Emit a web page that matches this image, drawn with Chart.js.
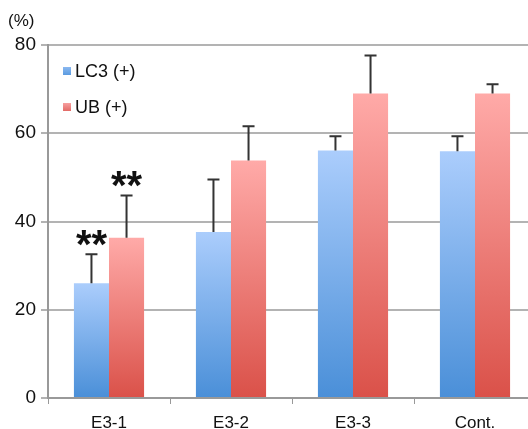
<!DOCTYPE html>
<html>
<head>
<meta charset="utf-8">
<script src="https://cdn.jsdelivr.net/npm/chart.js@4/dist/chart.umd.min.js"></script>
<style>
  html,body{margin:0;padding:0;background:#fff;overflow:hidden}
  #wrap{position:relative;width:528px;height:429px;overflow:hidden}
  #box{position:absolute;left:0;top:0;width:540px;height:429px}
</style>
</head>
<body>
<div id="wrap"><div id="box"><canvas id="c"></canvas></div></div>
<script>
const categories = ["E3-1", "E3-2", "E3-3", "Cont."];
const lc3Values = [26.0, 37.6, 56.1, 55.9];
const lc3Errors = [6.6, 11.9, 3.2, 3.4];
const ubValues = [36.3, 53.8, 69.0, 69.0];
const ubErrors = [9.6, 7.8, 8.6, 2.1];
const starMarks = [["**", "", "", ""], ["**", "", "", ""]];
const yTicks = [0, 20, 40, 60, 80];

const FONT = "'Liberation Sans', Arial, sans-serif";

// gradient per bar, from the bar's top down to the axis
function grad(ctx, top, bottom){
  const ys = ctx.chart.scales.y;
  if(!ys || ctx.parsed == null) return bottom;
  const t = ys.getPixelForValue(ctx.parsed.y), b = ys.getPixelForValue(0);
  if(!isFinite(t) || !isFinite(b) || b <= t) return bottom;
  const g = ctx.chart.ctx.createLinearGradient(0, t, 0, b);
  g.addColorStop(0, top); g.addColorStop(1, bottom);
  return g;
}

const errorBars = {
  id: "errorBars",
  afterDatasetsDraw(chart){
    const c = chart.ctx, y = chart.scales.y;
    const errs = [lc3Errors, ubErrors];
    c.save();
    c.strokeStyle = "#333"; c.lineWidth = 2;
    chart.data.datasets.forEach((ds, di) => {
      chart.getDatasetMeta(di).data.forEach((bar, i) => {
        const y0 = y.getPixelForValue(ds.data[i]);
        const y1 = y.getPixelForValue(ds.data[i] + errs[di][i]);
        c.beginPath();
        c.moveTo(bar.x, y0); c.lineTo(bar.x, y1);
        c.moveTo(bar.x - 6, y1); c.lineTo(bar.x + 6, y1);
        c.stroke();
        const s = starMarks[di][i];
        if(s){
          c.fillStyle = "#111"; c.font = "bold 40px " + FONT;
          c.textAlign = "center"; c.textBaseline = "alphabetic";
          c.fillText(s, bar.x, y1 + 4);
        }
      });
    });
    c.restore();
  }
};

const extras = {
  id: "extras",
  afterDraw(chart){
    const c = chart.ctx;
    c.save();
    c.fillStyle = "#111"; c.font = "17px " + FONT;
    c.textAlign = "left"; c.textBaseline = "middle";
    c.fillText("(%)", 8, 21);
    const sw = [["#8ab8f0", "#5b9be0"], ["#f7a0a0", "#e26a66"]];
    chart.data.datasets.forEach((ds, i) => {
      const yy = 71 + i * 36;
      const g = c.createLinearGradient(0, yy - 4, 0, yy + 4);
      g.addColorStop(0, sw[i][0]); g.addColorStop(1, sw[i][1]);
      c.fillStyle = g; c.fillRect(63, yy - 4, 8, 8);
      c.fillStyle = "#111"; c.font = "18px " + FONT;
      c.fillText(ds.label, 75, yy + 1);
    });
    c.restore();
  }
};

new Chart(document.getElementById("c"), {
  type: "bar",
  data: {
    labels: categories,
    datasets: [
      { label: "LC3 (+)", data: lc3Values,
        backgroundColor: ctx => grad(ctx, "#abcdfc", "#4a8fd8") },
      { label: "UB (+)", data: ubValues,
        backgroundColor: ctx => grad(ctx, "#ffaaa8", "#da5149") }
    ]
  },
  options: {
    responsive: true, maintainAspectRatio: false, animation: false,
    layout: { padding: { top: 45, right: 4, left: 0, bottom: 0 } },
    datasets: { bar: { barPercentage: 1, categoryPercentage: 0.575 } },
    plugins: { legend: { display: false }, tooltip: { enabled: false } },
    scales: {
      x: {
        grid: { offset: true, drawOnChartArea: false, color: "#999", tickLength: 6 },
        border: { color: "#999", width: 2 },
        ticks: { color: "#111", font: { family: FONT, size: 17 }, padding: 9 },
        afterFit: s => { s.height = 31; }
      },
      y: {
        min: 0, max: 80,
        afterBuildTicks: s => { s.ticks = yTicks.map(v => ({ value: v })); },
        grid: { color: "#b3b3b3", lineWidth: 2, tickLength: 7 },
        border: { color: "#999", width: 2 },
        ticks: { color: "#111", font: { family: FONT, size: 19 }, padding: 5 },
        afterFit: s => { s.width = 48; }
      }
    }
  },
  plugins: [errorBars, extras]
});
</script>
</body>
</html>
